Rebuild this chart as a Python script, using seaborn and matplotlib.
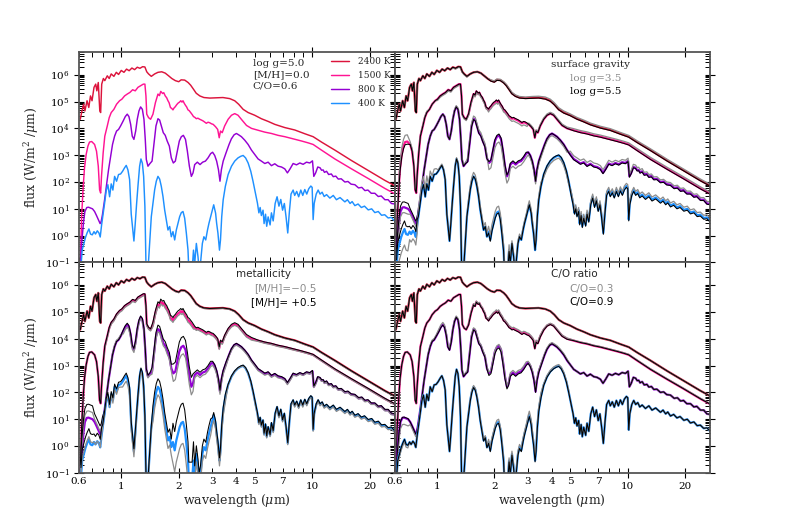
import numpy as np
import pandas as pd
import matplotlib
matplotlib.use("Agg")
import matplotlib.pyplot as plt
import seaborn as sns
from matplotlib.ticker import FixedLocator, FixedFormatter, NullFormatter, LogLocator

sns.set_style("ticks")
plt.rcParams['font.family'] = ['DejaVu Serif']
plt.rcParams['mathtext.fontset'] = 'dejavuserif'

# ---------------- data (wavelength in micron, log10 flux in W/m^2/micron) ----------------
temperatures = ["2400 K", "1500 K", "800 K", "400 K"]
colors = ["#DC143C", "#FF1493", "#9400D3", "#1E90FF"]

wl_2400 = [0.61, 0.62, 0.635, 0.645, 0.662, 0.676, 0.69, 0.703, 0.72, 0.735, 0.745, 0.758, 0.772, 0.78,
           0.79, 0.806, 0.82, 0.845, 0.865, 0.886, 0.915, 0.942, 0.968, 1.0, 1.033, 1.066, 1.10, 1.137,
           1.175, 1.213, 1.253, 1.294, 1.33, 1.36, 1.39, 1.437, 1.496, 1.557, 1.63, 1.70, 1.77, 1.84,
           1.92, 2.0, 2.06, 2.15, 2.24, 2.31, 2.39, 2.47, 2.58, 2.71, 2.91, 3.15, 3.41, 3.70, 3.93,
           4.12, 4.35, 4.62, 5.0, 5.42, 5.88, 6.37, 7.19, 8.11, 9.15, 10.12, 11.19, 13.15, 16.08,
           19.67, 24.05, 27.1]
logf_2400 = [4.34, 4.59, 4.90, 4.65, 5.03, 4.78, 5.21, 5.03, 5.53, 5.65, 5.40, 5.71, 4.65, 4.59,
             5.65, 5.86, 5.78, 5.96, 5.86, 6.03, 5.94, 6.09, 6.01, 6.16, 6.09, 6.21, 6.15, 6.25,
             6.19, 6.28, 6.24, 6.30, 6.29, 6.11, 6.03, 5.94, 6.03, 6.09, 6.11, 6.06, 5.96, 5.86,
             5.78, 5.74, 5.81, 5.80, 5.71, 5.61, 5.46, 5.31, 5.21, 5.15, 5.13, 5.14, 5.15, 5.11, 5.03,
             4.90, 4.71, 4.59, 4.49, 4.36, 4.26, 4.15, 4.03, 3.94, 3.80, 3.69, 3.49, 3.19, 2.80,
             2.43, 2.06, 1.86]

wl_1500 = [0.61, 0.62, 0.632, 0.642, 0.655, 0.669, 0.682, 0.70, 0.725, 0.742, 0.758, 0.77, 0.78, 0.788,
           0.804, 0.82, 0.845, 0.865, 0.886, 0.915, 0.945, 0.98, 1.008, 1.041, 1.075, 1.11, 1.147,
           1.184, 1.223, 1.263, 1.305, 1.33, 1.347, 1.36, 1.39, 1.425, 1.466, 1.51, 1.557, 1.585, 1.61,
           1.647, 1.67, 1.70, 1.73, 1.757, 1.78, 1.81, 1.84, 1.866, 1.89, 1.92, 1.95, 1.983, 2.02, 2.05,
           2.08, 2.106, 2.14, 2.17, 2.2, 2.237, 2.27, 2.31, 2.35, 2.39, 2.43, 2.474,
           2.52, 2.576, 2.63, 2.68, 2.73, 2.79, 2.85, 2.906, 2.97, 3.03, 3.08, 3.12, 3.2, 3.26, 3.31,
           3.38, 3.48, 3.63, 3.78, 3.93, 4.09,
           4.29, 4.53, 4.81, 5.21, 5.65, 6.12, 6.63, 7.19, 7.95, 8.79, 9.53, 10.12, 11.19, 13.15,
           16.08, 19.67, 24.05, 27.1]
logf_1500 = [-1.2, 0.71, 1.84, 2.53, 3.03, 3.34, 3.49, 3.51, 3.40, 3.15, 2.59, 1.71, 1.59, 2.21,
             3.09, 3.71, 4.09, 4.40, 4.59, 4.71, 4.90, 5.03, 5.09, 5.21, 5.28, 5.34, 5.44,
             5.40, 5.53, 5.59, 5.65, 5.65, 5.21, 4.53, 4.40, 4.34, 4.53, 4.96, 5.28, 5.22, 5.38,
             5.30, 5.33, 5.21, 5.14, 5.03, 4.96, 4.78, 4.74, 4.69, 4.76, 4.81, 4.88, 4.94, 4.98, 5.03,
             4.98, 5.03, 4.93, 4.86, 4.80, 4.69, 4.66, 4.59, 4.52, 4.44, 4.41, 4.36,
             4.38, 4.34, 4.31, 4.28, 4.24, 4.19, 4.23, 4.21, 4.17, 4.15, 4.10, 4.06, 3.96, 3.65, 3.90,
             3.84, 4.09, 4.34, 4.49, 4.55, 4.49,
             4.31, 4.11, 4.00, 3.93, 3.86, 3.81, 3.74, 3.69, 3.61, 3.53, 3.46, 3.40, 3.19, 2.86,
             2.49, 2.13, 1.76, 1.56]

wl_800 = [0.61, 0.62, 0.635, 0.645, 0.66, 0.674, 0.69, 0.707, 0.725, 0.742, 0.76, 0.775, 0.785, 0.797,
          0.818, 0.838, 0.858, 0.88, 0.90, 0.923, 0.945, 0.968, 0.992, 1.024, 1.05, 1.075, 1.097,
          1.12, 1.142, 1.165, 1.19, 1.213, 1.238, 1.263, 1.29, 1.315, 1.336, 1.353, 1.38, 1.414,
          1.45, 1.485, 1.52, 1.557, 1.589, 1.621, 1.66, 1.70, 1.74, 1.786, 1.829, 1.874, 1.92,
          1.967, 2.015, 2.064, 2.115, 2.17, 2.22, 2.274, 2.329, 2.377, 2.425, 2.504, 2.586, 2.67,
          2.76, 2.848, 2.94, 3.01, 3.087, 3.16, 3.23, 3.29, 3.346, 3.42, 3.54, 3.67, 3.775, 3.90,
          4.01, 4.12, 4.26, 4.435, 4.62, 4.81, 5.0, 5.21, 5.42, 5.65, 5.88, 6.12, 6.37, 6.63, 6.91,
          7.19, 7.42, 7.66, 7.95, 8.28, 8.62, 8.97, 9.34, 9.72, 10.04, 10.2, 10.43, 10.7, 11.0,
          11.2, 11.42, 11.6, 11.9, 12.2, 12.6, 12.9, 13.3, 13.7, 14.2, 14.84, 15.4, 16.0, 16.74,
          17.5, 18.2, 18.9, 19.6, 20.4, 21.3, 22.2, 23.0, 24.05, 25.0, 26.0, 27.1]
logf_800 = [-1.2, -0.29, 0.53, 0.90, 1.05, 1.06, 1.03, 1.00, 0.90, 0.75, 0.58, 0.45, 0.53, 0.78,
            1.34, 1.90, 2.46, 2.96, 3.40, 3.71, 3.90, 3.96, 4.09, 4.28, 4.44, 4.53, 4.44,
            4.15, 3.71, 3.59, 3.90, 4.34, 4.65, 4.80, 4.71, 4.34, 3.59, 2.84, 2.59, 2.69,
            2.78, 3.46, 4.09, 4.36, 4.31, 4.09, 3.84, 3.74, 3.53, 3.34, 2.90, 2.71, 2.78,
            3.15, 3.53, 3.69, 3.74, 3.59, 3.15, 2.59, 2.21, 2.34, 2.65, 2.74, 2.65, 2.74,
            2.78, 2.90, 3.06, 3.11, 2.99, 2.78, 2.46, 2.03, 2.46, 2.78, 3.09, 3.40, 3.61, 3.76,
            3.81, 3.76, 3.69, 3.56, 3.40, 3.19, 3.03, 2.86, 2.78, 2.69, 2.74, 2.61, 2.68, 2.59, 2.56,
            2.49, 2.34, 2.49, 2.69, 2.64, 2.71, 2.66, 2.74, 2.71, 2.79, 2.21, 2.34, 2.56, 2.53,
            2.44, 2.45, 2.36, 2.40, 2.28, 2.30, 2.20, 2.22, 2.11, 2.12, 2.00, 2.02, 1.92, 1.90,
            1.78, 1.80, 1.68, 1.70, 1.58, 1.58, 1.46, 1.48, 1.34, 1.34, 1.20, 1.18]

wl_400 = [0.615, 0.624, 0.637, 0.65, 0.663, 0.677, 0.69, 0.705, 0.72, 0.733, 0.749, 0.764, 0.776,
          0.789, 0.80, 0.818, 0.834, 0.851, 0.869, 0.886, 0.904, 0.923, 0.945, 0.968, 0.992, 1.016,
          1.041, 1.062, 1.084, 1.106, 1.128, 1.147, 1.165, 1.184, 1.204, 1.223, 1.248, 1.268, 1.29,
          1.31, 1.33, 1.347, 1.38, 1.408, 1.437, 1.466, 1.496, 1.526, 1.557, 1.589, 1.621, 1.654,
          1.688, 1.722, 1.757, 1.793, 1.829, 1.866, 1.905, 1.943, 1.983, 2.023, 2.064, 2.106, 2.149,
          2.193, 2.237, 2.26, 2.35, 2.39, 2.425, 2.474, 2.524, 2.56, 2.6, 2.66, 2.71, 2.77, 2.83,
          2.88, 2.94, 3.0, 3.05, 3.12, 3.16, 3.21, 3.27, 3.31, 3.36, 3.42, 3.51, 3.63, 3.78, 3.93,
          4.09, 4.23, 4.35, 4.48, 4.62, 4.77, 4.90,
          5.04, 5.17, 5.26, 5.34, 5.42, 5.53, 5.60, 5.70, 5.78, 5.88, 6.02, 6.12, 6.25, 6.40, 6.55,
          6.70, 6.85, 7.0, 7.15, 7.3, 7.45, 7.6, 7.75, 7.95, 8.1, 8.3, 8.5, 8.72, 8.93, 9.15,
          9.37, 9.6, 9.84, 10.0, 10.12, 10.25, 10.5, 10.75,
          11.0, 11.28, 11.56, 11.9, 12.38, 12.9, 13.4, 14.0, 14.84, 15.3, 15.8, 16.2, 16.74, 17.4,
          18.1, 18.8, 19.67, 20.5, 21.3, 22.2, 23.1, 24.0, 25.0, 26.0, 27.1]
logf_400 = [-1.2, -0.54, -0.29, -0.06, 0.11, 0.25, 0.06, 0.03, 0.15, 0.06, 0.18, 0.10, -0.05,
            0.40, 0.71, 1.21, 1.68, 1.90, 1.45, 1.93, 1.70, 2.21, 2.03, 2.28, 2.30, 2.40,
            2.53, 2.62, 2.45, 2.09, 0.80, 0.30, -0.20, 0.46, 1.21, 1.84, 2.59, 2.86, 2.70,
            2.21, 1.09, -1.04, -1.3, -0.29, 0.71, 1.21, 1.71, 2.03, 2.21, 2.11, 1.84, 1.46,
            0.96, 0.59, 0.21, 0.34, -0.04, 0.15, -0.16, 0.21, 0.46, 0.71, 0.86, 0.90, 0.65,
            0.09, -0.54, -1.3, -1.3, -0.54, -1.04, -0.29, -0.79, -1.3, -1.04, -0.29, -0.04, -0.16, 0.21,
            0.46, 0.71, 0.96, 1.15, 0.84, 0.46, 0.09, -0.54, -0.16, 0.71, 1.34, 1.84, 2.28, 2.59, 2.78,
            2.90, 2.96, 2.99, 2.90, 2.71, 2.40, 2.03,
            1.59, 1.21, 0.85, 1.05, 0.75, 0.95, 0.45, 0.80, 0.35, 0.70, 0.40, 0.85, 0.55, 1.20, 1.45,
            1.10, 1.35, 0.95, 1.20, 0.70, 0.10, 0.90, 1.55, 1.70, 1.50, 1.65, 1.45, 1.70, 1.50, 1.72,
            1.55, 1.75, 1.85, 1.80, 0.60, 1.20, 1.55, 1.70,
            1.55, 1.62, 1.46, 1.53, 1.40, 1.50, 1.34, 1.42, 1.26, 1.34, 1.20, 1.27, 1.12, 1.18,
            1.05, 1.10, 0.96, 1.00, 0.86, 0.90, 0.76, 0.78, 0.66, 0.68, 0.54]

base_wl = [wl_2400, wl_1500, wl_800, wl_400]
base_logf = [logf_2400, logf_1500, logf_800, logf_400]

# Offsets (dex) of the model variants relative to the base model, per wavelength band
band_edges = [0.5, 0.72, 0.8, 0.9, 1.0, 1.2, 1.45, 1.85, 2.4, 3.0, 3.6, 5.0, 8.0, 12.0, 30.0]

gravity_low = [  # log g = 3.5 (grey)
    [0, 0, 0, 0, 0, -0.03, 0, 0.03, 0.04, 0.05, 0.06, 0.05, 0.05, 0.05],
    [0.25, 0.1, 0.05, 0, -0.05, -0.05, -0.05, -0.08, -0.1, 0.05, 0.05, 0.06, 0.06, 0.06],
    [-0.2, -0.1, 0, 0, 0, 0.05, 0.1, -0.25, -0.15, -0.1, -0.08, 0.12, 0.1, 0.08],
    [-0.6, -0.3, 0.3, 0.2, 0.05, 0.05, 0.15, 0.2, 0.1, 0.15, -0.1, 0.1, 0.1, 0.1]]
gravity_high = [  # log g = 5.5 (black)
    [0, 0, 0, 0, 0, 0, 0, -0.02, -0.02, -0.02, -0.02, -0.02, -0.02, -0.02],
    [-0.1, 0, 0, 0, 0, 0, 0.02, 0.03, 0.03, 0, 0, -0.02, -0.02, -0.02],
    [0.2, 0.1, 0, 0, 0, 0, -0.03, 0.05, 0.05, 0, 0, -0.03, -0.03, -0.03],
    [0.3, 0.2, 0, 0, 0, 0, 0, -0.05, 0, 0, 0.02, -0.05, -0.05, -0.05]]
metal_low = [  # [M/H] = -0.5 (grey)
    [0, 0, 0, 0, 0, 0, 0, -0.02, -0.02, -0.02, -0.02, -0.02, -0.02, -0.02],
    [0, 0, -0.05, -0.05, -0.05, -0.05, -0.08, -0.08, -0.05, -0.05, -0.05, -0.03, -0.02, -0.02],
    [0.25, 0.1, 0, 0.05, -0.1, -0.05, -0.1, -0.3, -0.1, -0.1, -0.05, -0.05, -0.03, -0.03],
    [0.1, 0, 0, -0.1, -0.2, -0.1, -0.3, -0.8, -0.3, -0.2, 0, -0.05, -0.05, -0.05]]
metal_high = [  # [M/H] = +0.5 (black)
    [0, 0, 0, 0, 0, 0, 0, 0, 0, 0, 0, 0, 0, 0],
    [0, 0, 0.03, 0.03, 0.03, 0.03, 0.1, 0.1, 0.05, 0.05, 0.05, 0.02, 0.02, 0.02],
    [0.5, 0.3, 0, 0, 0.05, 0.05, 0.15, 0.35, 0.1, 0.05, 0.02, 0.03, 0.03, 0.03],
    [0.4, 0.3, 0.1, 0.1, 0.1, 0.05, 0.3, 0.7, 0.3, 0.1, 0.03, 0.03, 0.03, 0.03]]
co_low = [  # C/O = 0.3 (grey)
    [0, 0, 0, 0, 0, 0, 0, 0, 0, 0, 0, 0, 0, 0],
    [0, 0, 0, 0, 0, 0, 0.03, 0.05, 0.05, 0.05, 0.03, 0.02, 0.02, 0.02],
    [-0.25, -0.1, 0, 0.05, 0.08, 0.05, 0.05, 0.05, 0.08, 0.05, 0.05, 0, 0, 0],
    [-0.1, 0, 0, 0, 0, 0, 0.05, 0.1, 0.1, 0.15, 0.05, 0, 0, 0]]
co_high = [  # C/O = 0.9 (black)
    [0, 0, 0, 0, 0, 0, 0, 0, 0, 0, 0, 0, 0, 0],
    [0, 0, 0, 0, 0, 0, -0.02, -0.03, -0.03, -0.03, -0.02, 0, 0, 0],
    [0.02, 0, 0, 0, -0.02, 0, -0.03, -0.08, -0.05, -0.03, 0, 0, 0, 0],
    [0, 0, 0, 0, 0, 0, -0.03, -0.05, -0.05, -0.05, -0.02, 0, 0, 0]]

xtick_major = [1, 2, 10, 20]
xtick_major_labels = ["1", "2", "10", "20"]
xtick_minor = [0.6, 0.7, 0.8, 0.9, 3, 4, 5, 6, 7, 8, 9]
xtick_minor_labels = ["0.6", "", "", "", "3", "4", "5", "", "7", "", ""]

# ---------------- figure ----------------
fig, axes = plt.subplots(2, 2, figsize=(7.89, 5.26), dpi=100)
fig.subplots_adjust(left=0.1, right=0.9, top=0.901, bottom=0.101, wspace=0, hspace=0)


def curve_frame(wl, logf, offs=None):
    wl = np.asarray(wl, dtype=float)
    lf = np.asarray(logf, dtype=float)
    n = min(len(wl), len(lf))
    wl, lf = wl[:n], lf[:n]
    if offs is not None:
        idx = np.clip(np.digitize(wl, band_edges) - 1, 0, len(offs) - 1)
        lf = lf + np.asarray(offs, dtype=float)[idx]
    return pd.DataFrame({"wl": wl, "flux": 10.0 ** lf})


def draw(ax, df, color, lw, label=None):
    sns.lineplot(data=df, x="wl", y="flux", ax=ax, color=color, lw=lw,
                 sort=False, estimator=None, legend=False, label=label)


# top-left: base models
axtl = axes[0, 0]
for i in range(4):
    draw(axtl, curve_frame(base_wl[i], base_logf[i]), colors[i], 1.05, temperatures[i])

panels = [(axes[0, 1], gravity_low, gravity_high),
          (axes[1, 0], metal_low, metal_high),
          (axes[1, 1], co_low, co_high)]
for ax, lo, hi in panels:
    for i in range(4):
        draw(ax, curve_frame(base_wl[i], base_logf[i]), colors[i], 1.6)
        draw(ax, curve_frame(base_wl[i], base_logf[i], lo[i]), "#8c8c8c", 0.9)
        draw(ax, curve_frame(base_wl[i], base_logf[i], hi[i]), "black", 0.75)

for r in range(2):
    for c in range(2):
        ax = axes[r, c]
        ax.set_xscale("log")
        ax.set_yscale("log")
        ax.set_xlim(0.6, 27)
        ax.set_ylim(0.1, 7e6)
        ax.xaxis.set_major_locator(FixedLocator(xtick_major))
        ax.xaxis.set_minor_locator(FixedLocator(xtick_minor))
        if r == 1:
            ax.xaxis.set_major_formatter(FixedFormatter(xtick_major_labels))
            ax.xaxis.set_minor_formatter(FixedFormatter(xtick_minor_labels))
            ax.set_xlabel(r"wavelength ($\mu$m)", fontsize=9, labelpad=1)
        else:
            ax.xaxis.set_major_formatter(NullFormatter())
            ax.xaxis.set_minor_formatter(NullFormatter())
            ax.set_xlabel("")
        ax.yaxis.set_major_locator(LogLocator(base=10, numticks=20))
        ax.yaxis.set_minor_locator(LogLocator(base=10, subs=np.arange(2, 10), numticks=20))
        ax.yaxis.set_minor_formatter(NullFormatter())
        if c == 0:
            ax.set_ylabel(r"flux (W/m$^2$ /$\mu$m)", fontsize=9, labelpad=3)
        else:
            ax.set_ylabel("")
            ax.tick_params(axis="y", which="both", labelleft=False)
        ax.tick_params(which="both", top=True, right=True, direction="in", colors="black",
                       labelsize=7.5, pad=3)
        ax.tick_params(which="major", length=7, width=0.8, direction="inout")
        ax.tick_params(which="minor", length=3.5, width=0.7)
        for sp in ax.spines.values():
            sp.set_color("#555555")
            sp.set_linewidth(1.3)

# annotations
for y, s in zip([0.946, 0.894, 0.841], ["log g=5.0", "[M/H]=0.0", "C/O=0.6"]):
    axtl.text(0.551, y, s, transform=axtl.transAxes, fontsize=7.5, va="center", ha="left")
axtl.legend(loc="upper left", bbox_to_anchor=(0.80, 0.975), frameon=False, fontsize=6.5,
            handlelength=2.0, handletextpad=0.9, labelspacing=0.55, borderpad=0, borderaxespad=0)

ax = axes[0, 1]
ax.text(0.495, 0.943, "surface gravity", transform=ax.transAxes, fontsize=7.5, va="center")
ax.text(0.555, 0.876, "log g=3.5", transform=ax.transAxes, fontsize=7.5, va="center", color="#8c8c8c")
ax.text(0.555, 0.814, "log g=5.5", transform=ax.transAxes, fontsize=7.5, va="center", color="black")

sans = ["DejaVu Sans"]
ax = axes[1, 0]
ax.text(0.497, 0.943, "metallicity", transform=ax.transAxes, fontsize=7.5, va="center", family=sans)
ax.text(0.554, 0.876, "[M/H]=\u22120.5", transform=ax.transAxes, fontsize=7.5, va="center",
        color="#8c8c8c", family=sans)
ax.text(0.545, 0.814, "[M/H]= +0.5", transform=ax.transAxes, fontsize=7.5, va="center",
        color="black", family=sans)

ax = axes[1, 1]
ax.text(0.495, 0.943, "C/O ratio", transform=ax.transAxes, fontsize=7.5, va="center", family=sans)
ax.text(0.555, 0.876, "C/O=0.3", transform=ax.transAxes, fontsize=7.5, va="center",
        color="#8c8c8c", family=sans)
ax.text(0.555, 0.814, "C/O=0.9", transform=ax.transAxes, fontsize=7.5, va="center",
        color="black", family=sans)

fig.savefig("out.png", dpi=100)
